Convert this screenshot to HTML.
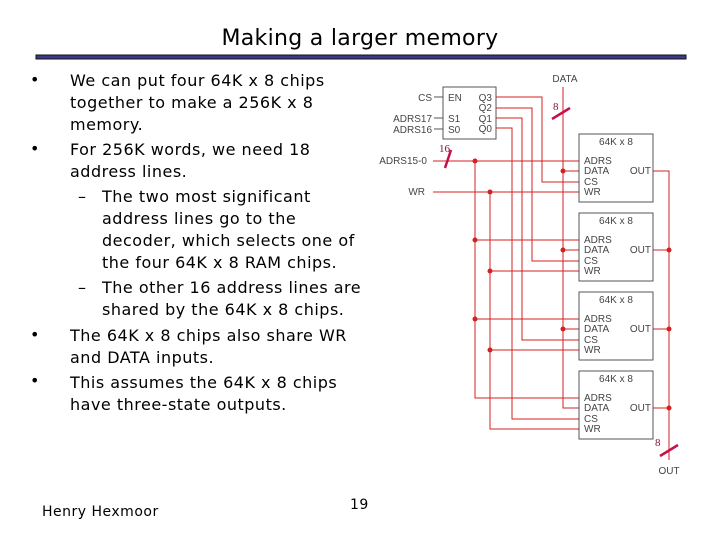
<!DOCTYPE html>
<html><head><meta charset="utf-8"><style>
html,body{margin:0;padding:0;background:#fff;}
svg{display:block}
.t{font-family:"DejaVu Sans","Liberation Sans",sans-serif;font-size:16px;fill:#000;letter-spacing:0.5px}
.s{font-family:"Liberation Sans",sans-serif;font-size:10px;fill:#444}
</style></head><body>
<svg width="720" height="540" viewBox="0 0 720 540" xmlns="http://www.w3.org/2000/svg">
<text x="360" y="45" text-anchor="middle" class="t" style="font-size:22px;letter-spacing:0.3px">Making a larger memory</text>
<rect x="36" y="55" width="650" height="4" fill="#3a3a8a" stroke="#111" stroke-width="1"/>
<g class="t">
<text x="30" y="85">•</text><text x="70" y="86">We can put four 64K x 8 chips</text>
<text x="70" y="108">together to make a 256K x 8</text>
<text x="70" y="130">memory.</text>
<text x="30" y="154">•</text><text x="70" y="155">For 256K words, we need 18</text>
<text x="70" y="177">address lines.</text>
<text x="78" y="202">–</text><text x="102" y="202">The two most significant</text>
<text x="102" y="224">address lines go to the</text>
<text x="102" y="246">decoder, which selects one of</text>
<text x="102" y="268">the four 64K x 8 RAM chips.</text>
<text x="78" y="293">–</text><text x="102" y="293">The other 16 address lines are</text>
<text x="102" y="315">shared by the 64K x 8 chips.</text>
<text x="30" y="340">•</text><text x="70" y="341">The 64K x 8 chips also share WR</text>
<text x="70" y="363">and DATA inputs.</text>
<text x="30" y="386">•</text><text x="70" y="388">This assumes the 64K x 8 chips</text>
<text x="70" y="410">have three-state outputs.</text>
<text x="42" y="516" style="font-size:14px">Henry Hexmoor</text>
<text x="350" y="509" style="font-size:14px">19</text>
</g>
<rect x="443" y="87" width="53" height="52" fill="#fff" stroke="#555"/>
<g class="s">
<text x="432" y="101" text-anchor="end">CS</text>
<text x="432" y="122" text-anchor="end">ADRS17</text>
<text x="432" y="133" text-anchor="end">ADRS16</text>
<text x="448" y="101">EN</text><text x="448" y="122">S1</text><text x="448" y="133">S0</text>
<text x="492" y="101" text-anchor="end">Q3</text><text x="492" y="111" text-anchor="end">Q2</text>
<text x="492" y="122" text-anchor="end">Q1</text><text x="492" y="132" text-anchor="end">Q0</text>
<text x="565" y="82" text-anchor="middle">DATA</text>
<text x="427" y="164" text-anchor="end">ADRS15-0</text>
<text x="425" y="195" text-anchor="end">WR</text>
<text x="669" y="474" text-anchor="middle">OUT</text>
</g>
<g stroke="#555" stroke-width="1">
<line x1="434" y1="97" x2="443" y2="97"/><line x1="434" y1="118" x2="443" y2="118"/><line x1="434" y1="129" x2="443" y2="129"/>
</g>
<g stroke="#d42020" stroke-width="1" fill="none">
<polyline points="496,97 542,97 542,182 579,182"/>
<polyline points="496,108 532,108 532,261 579,261"/>
<polyline points="496,118 522,118 522,340 579,340"/>
<polyline points="496,128 512,128 512,419 579,419"/>
<line x1="433" y1="161" x2="579" y2="161"/>
<line x1="433" y1="192" x2="579" y2="192"/>
<polyline points="475,161 475,398 579,398"/>
<line x1="475" y1="240" x2="579" y2="240"/><line x1="475" y1="319" x2="579" y2="319"/>
<polyline points="490,192 490,429 579,429"/>
<line x1="490" y1="271" x2="579" y2="271"/><line x1="490" y1="350" x2="579" y2="350"/>
<polyline points="563,87 563,408 579,408"/>
<line x1="563" y1="171" x2="579" y2="171"/><line x1="563" y1="250" x2="579" y2="250"/><line x1="563" y1="329" x2="579" y2="329"/>
<polyline points="653,171 669,171 669,460"/>
<line x1="653" y1="250" x2="669" y2="250"/><line x1="653" y1="329" x2="669" y2="329"/><line x1="653" y1="408" x2="669" y2="408"/>
</g>
<g fill="#d42020">
<circle cx="475" cy="161" r="2.5"/><circle cx="475" cy="240" r="2.5"/><circle cx="475" cy="319" r="2.5"/>
<circle cx="490" cy="192" r="2.5"/><circle cx="490" cy="271" r="2.5"/><circle cx="490" cy="350" r="2.5"/>
<circle cx="563" cy="171" r="2.5"/><circle cx="563" cy="250" r="2.5"/><circle cx="563" cy="329" r="2.5"/>
<circle cx="669" cy="250" r="2.5"/><circle cx="669" cy="329" r="2.5"/><circle cx="669" cy="408" r="2.5"/>
</g>
<g stroke="#c8104a" stroke-width="2.5">
<line x1="451" y1="150" x2="445" y2="168"/>
<line x1="552" y1="119" x2="570" y2="108"/>
<line x1="660" y1="456" x2="678" y2="445"/>
</g>
<g font-family="Liberation Serif,serif" font-size="11" fill="#8a1040">
<text x="439" y="152">16</text><text x="553" y="110">8</text><text x="655" y="446">8</text>
</g>
<g>
<g transform="translate(0,0)">
<rect x="579" y="134" width="74" height="68" fill="#fff" stroke="#555"/>
<g class="s"><text x="616" y="145" text-anchor="middle">64K x 8</text>
<text x="584" y="164">ADRS</text><text x="584" y="174">DATA</text><text x="584" y="185">CS</text><text x="584" y="195">WR</text>
<text x="651" y="174" text-anchor="end">OUT</text></g></g>
<g transform="translate(0,79)">
<rect x="579" y="134" width="74" height="68" fill="#fff" stroke="#555"/>
<g class="s"><text x="616" y="145" text-anchor="middle">64K x 8</text>
<text x="584" y="164">ADRS</text><text x="584" y="174">DATA</text><text x="584" y="185">CS</text><text x="584" y="195">WR</text>
<text x="651" y="174" text-anchor="end">OUT</text></g></g>
<g transform="translate(0,158)">
<rect x="579" y="134" width="74" height="68" fill="#fff" stroke="#555"/>
<g class="s"><text x="616" y="145" text-anchor="middle">64K x 8</text>
<text x="584" y="164">ADRS</text><text x="584" y="174">DATA</text><text x="584" y="185">CS</text><text x="584" y="195">WR</text>
<text x="651" y="174" text-anchor="end">OUT</text></g></g>
<g transform="translate(0,237)">
<rect x="579" y="134" width="74" height="68" fill="#fff" stroke="#555"/>
<g class="s"><text x="616" y="145" text-anchor="middle">64K x 8</text>
<text x="584" y="164">ADRS</text><text x="584" y="174">DATA</text><text x="584" y="185">CS</text><text x="584" y="195">WR</text>
<text x="651" y="174" text-anchor="end">OUT</text></g></g>
</g>
</svg>
</body></html>
